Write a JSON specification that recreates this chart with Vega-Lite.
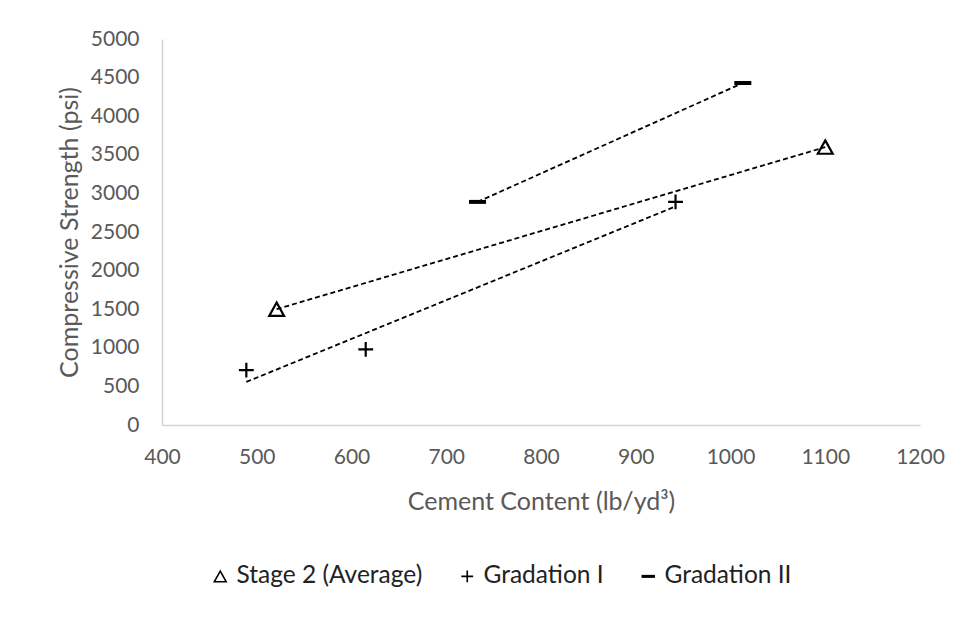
{
  "$schema": "https://vega.github.io/schema/vega-lite/v6.json",
  "width": 758,
  "height": 386,
  "autosize": "none",
  "padding": {"left": 162, "top": 39, "right": 47, "bottom": 198},
  "background": "white",
  "config": {
    "view": {"stroke": null},
    "font": "Lato",
    "axis": {
      "grid": false,
      "ticks": false,
      "domainColor": "#d4d4d4",
      "domainWidth": 1.5,
      "labelColor": "#595959",
      "labelFontSize": 21,
      "labelFlush": false,
      "labelOverlap": false,
      "format": "d",
      "titleColor": "#595959",
      "titleFontSize": 25,
      "titleFontWeight": "normal"
    },
    "legend": {
      "labelFontSize": 24.5,
      "labelColor": "#222222",
      "labelLimit": 400
    }
  },
  "data": {
    "values": [
      {"series": "Stage 2 (Average)", "cement": 521, "strength": 1500},
      {"series": "Stage 2 (Average)", "cement": 1100, "strength": 3600},
      {"series": "Gradation I", "cement": 489, "strength": 710},
      {"series": "Gradation I", "cement": 615, "strength": 980},
      {"series": "Gradation I", "cement": 942, "strength": 2890},
      {"series": "Gradation II", "cement": 733, "strength": 2890},
      {"series": "Gradation II", "cement": 1013, "strength": 4430}
    ]
  },
  "encoding": {
    "x": {
      "field": "cement",
      "type": "quantitative",
      "scale": {"domain": [400, 1200], "nice": false, "zero": false},
      "axis": {
        "values": [400, 500, 600, 700, 800, 900, 1000, 1100, 1200],
        "labelOverlap": false,
        "labelPadding": 21,
        "title": "Cement Content (lb/yd³)",
        "titlePadding": 22
      }
    },
    "y": {
      "field": "strength",
      "type": "quantitative",
      "scale": {"domain": [0, 5000], "nice": false},
      "axis": {
        "values": [0, 500, 1000, 1500, 2000, 2500, 3000, 3500, 4000, 4500, 5000],
        "labelOverlap": false,
        "labelPadding": 23,
        "title": "Compressive Strength (psi)",
        "titlePadding": 8
      }
    }
  },
  "layer": [
    {
      "transform": [
        {"regression": "strength", "on": "cement", "groupby": ["series"]}
      ],
      "mark": {"type": "line", "color": "black", "strokeWidth": 1.8, "strokeDash": [5, 3]},
      "encoding": {
        "detail": {"field": "series"}
      }
    },
    {
      "mark": {"type": "point", "filled": false, "stroke": "black", "strokeWidth": 2.2, "size": 220, "opacity": 1},
      "encoding": {
        "shape": {
          "field": "series",
          "type": "nominal",
          "scale": {
            "domain": ["Stage 2 (Average)", "Gradation I", "Gradation II"],
            "range": [
              "M0,-0.9L1,0.9L-1,0.9Z",
              "M0,-1V1M-1,0H1",
              "M-1,-0.12H1V0.12H-1Z"
            ]
          },
          "legend": {
            "title": null,
            "orient": "none",
            "direction": "horizontal",
            "legendX": 46,
            "legendY": 525,
            "symbolSize": 140,
            "symbolStrokeWidth": 1.6,
            "symbolStrokeColor": "black",
            "symbolFillColor": "transparent",
            "labelOffset": 4,
            "columnPadding": 32
          }
        }
      }
    }
  ]
}
